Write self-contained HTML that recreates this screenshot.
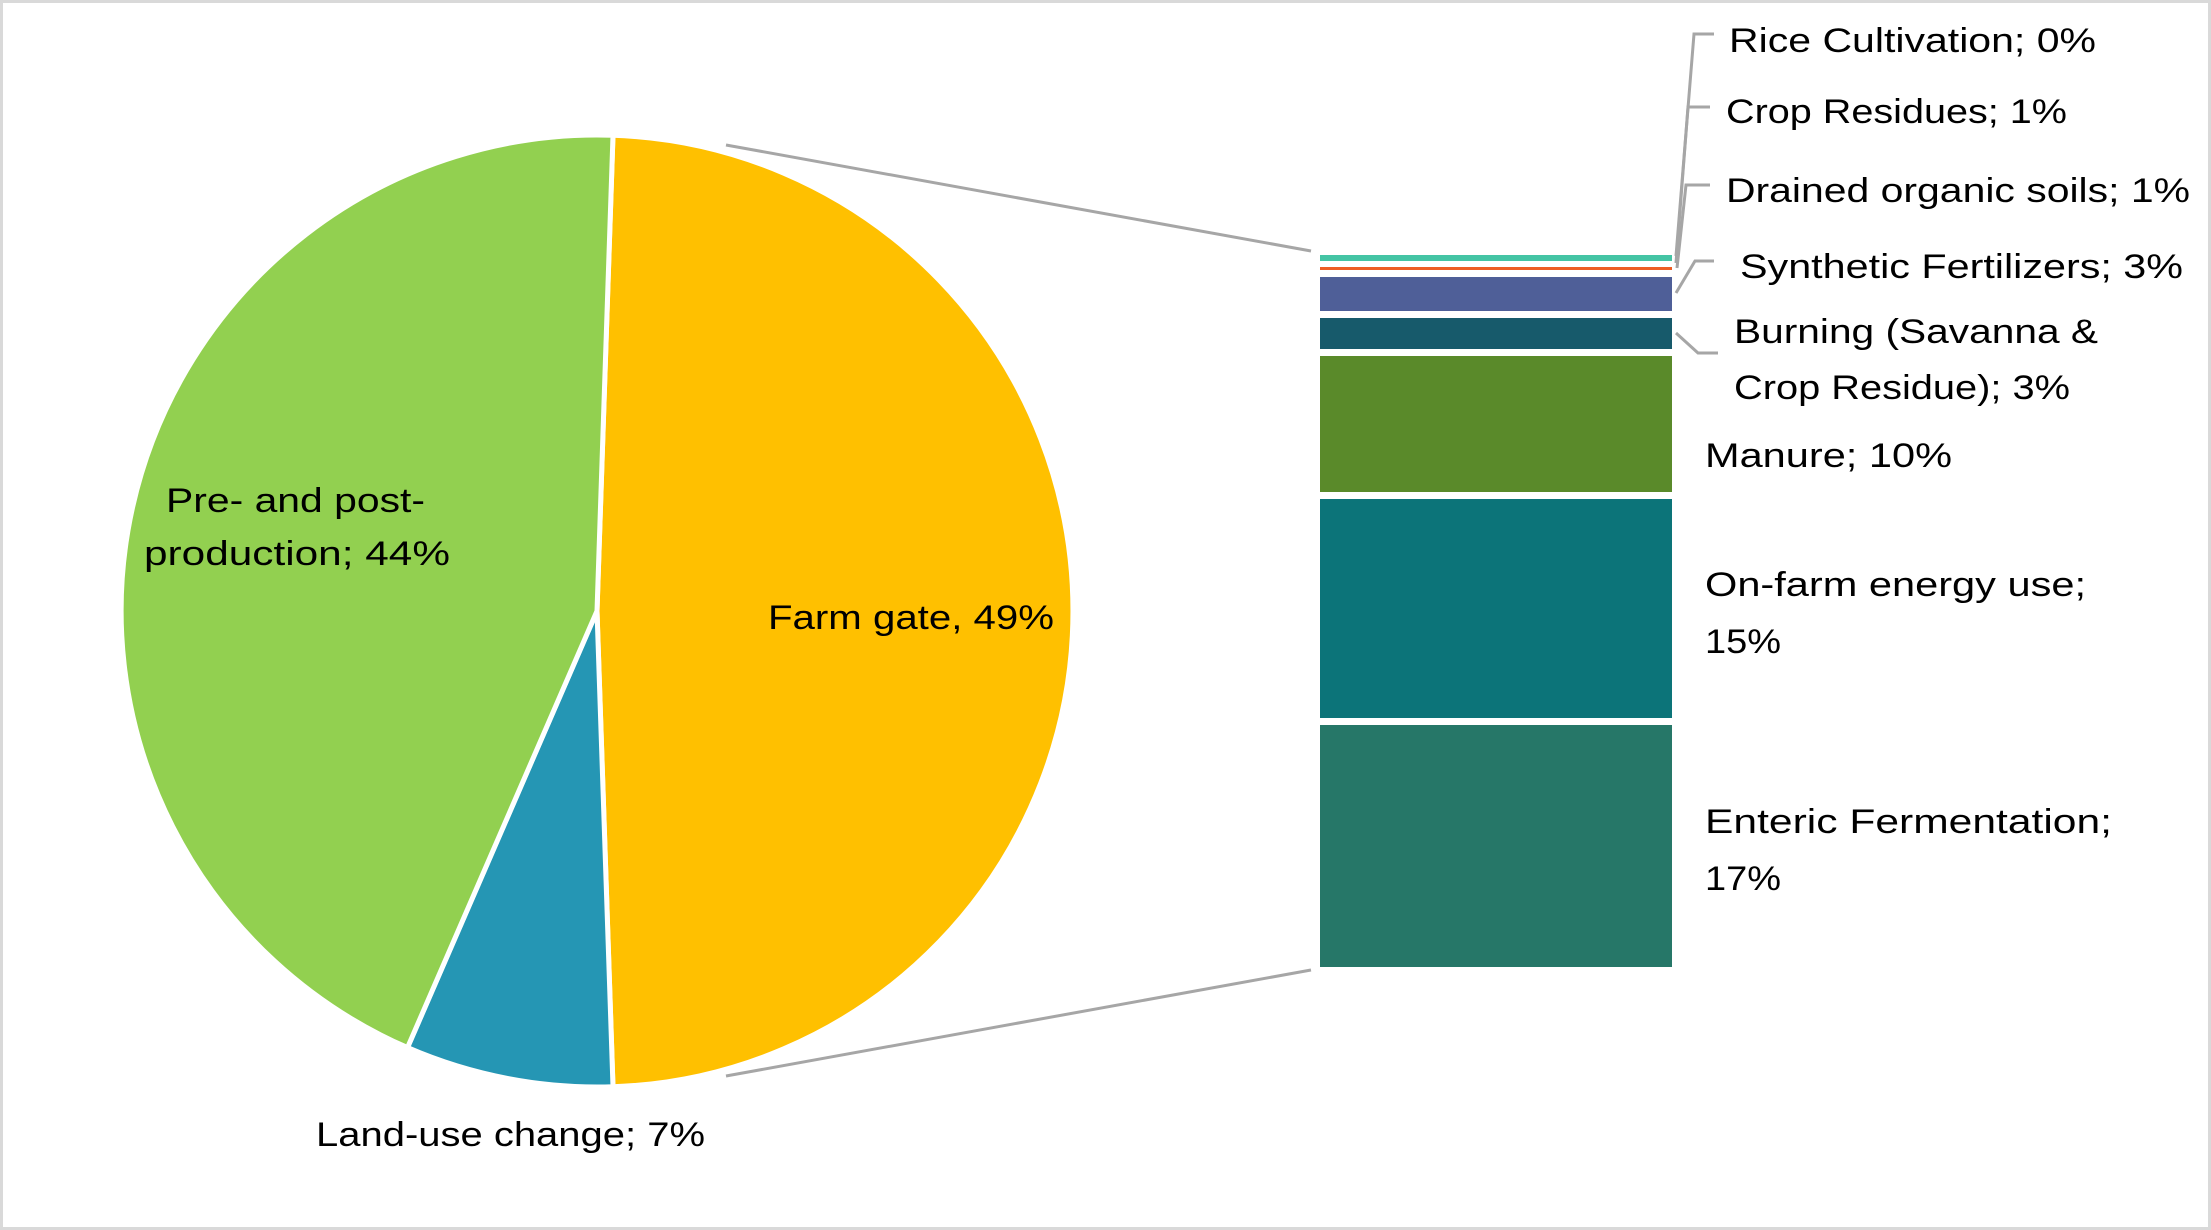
<!DOCTYPE html>
<html><head><meta charset="utf-8"><style>
html,body{margin:0;padding:0;background:#fff}
svg{display:block}
text{font-family:"Liberation Sans",sans-serif;font-size:34px;fill:#000}
</style></head><body>
<svg width="2211" height="1230" viewBox="0 0 2211 1230" xmlns="http://www.w3.org/2000/svg">
<rect x="1.5" y="1.5" width="2208" height="1227" fill="#fff" stroke="#d9d9d9" stroke-width="3"/>
<line x1="726" y1="145" x2="1311" y2="251" stroke="#a6a6a6" stroke-width="3"/>
<line x1="726" y1="1076" x2="1311" y2="970" stroke="#a6a6a6" stroke-width="3"/>
<path d="M597,611 L613,135.27 A476,476 0 0 1 613,1086.73 Z" fill="#ffc000" stroke="#fff" stroke-width="5"/>
<path d="M597,611 L613,1086.73 A476,476 0 0 1 407.5,1047.6 Z" fill="#2596b4" stroke="#fff" stroke-width="5"/>
<path d="M597,611 L407.5,1047.6 A476,476 0 0 1 613,135.27 Z" fill="#92d050" stroke="#fff" stroke-width="5"/>
<rect x="1320" y="255" width="352" height="6" fill="#44c4a4"/>
<rect x="1320" y="267" width="352" height="3" fill="#ed5d24"/>
<rect x="1320" y="277" width="352" height="34" fill="#4f5f98"/>
<rect x="1320" y="318" width="352" height="31" fill="#175a6b"/>
<rect x="1320" y="356" width="352" height="136" fill="#5a8a2a"/>
<rect x="1320" y="499" width="352" height="219" fill="#0c7479"/>
<rect x="1320" y="725" width="352" height="242" fill="#267768"/>
<g stroke="#a6a6a6" stroke-width="3" fill="none">
<polyline points="1714,34 1694,34 1676,256"/>
<polyline points="1710,107 1688,107 1676,263"/>
<polyline points="1710,185 1686,185 1677,268"/>
<polyline points="1714,261 1695,261 1676,293"/>
<polyline points="1676,333 1698,353 1718,353"/>
</g>
<text x="1729" y="52" textLength="367" lengthAdjust="spacingAndGlyphs">Rice Cultivation; 0%</text>
<text x="1726" y="123" textLength="341" lengthAdjust="spacingAndGlyphs">Crop Residues; 1%</text>
<text x="1726" y="202" textLength="464" lengthAdjust="spacingAndGlyphs">Drained organic soils; 1%</text>
<text x="1740" y="278" textLength="443" lengthAdjust="spacingAndGlyphs">Synthetic Fertilizers; 3%</text>
<text x="1734" y="343" textLength="364" lengthAdjust="spacingAndGlyphs">Burning (Savanna &amp;</text>
<text x="1734" y="399" textLength="336" lengthAdjust="spacingAndGlyphs">Crop Residue); 3%</text>
<text x="1705" y="467" textLength="247" lengthAdjust="spacingAndGlyphs">Manure; 10%</text>
<text x="1705" y="596" textLength="381" lengthAdjust="spacingAndGlyphs">On-farm energy use;</text>
<text x="1705" y="653" textLength="76" lengthAdjust="spacingAndGlyphs">15%</text>
<text x="1705" y="833" textLength="407" lengthAdjust="spacingAndGlyphs">Enteric Fermentation;</text>
<text x="1705" y="890" textLength="76" lengthAdjust="spacingAndGlyphs">17%</text>
<text x="166" y="512" textLength="259" lengthAdjust="spacingAndGlyphs">Pre- and post-</text>
<text x="144" y="565" textLength="306" lengthAdjust="spacingAndGlyphs">production; 44%</text>
<text x="768" y="629" textLength="286" lengthAdjust="spacingAndGlyphs">Farm gate, 49%</text>
<text x="316" y="1146" textLength="389" lengthAdjust="spacingAndGlyphs">Land-use change; 7%</text>
</svg>
</body></html>
